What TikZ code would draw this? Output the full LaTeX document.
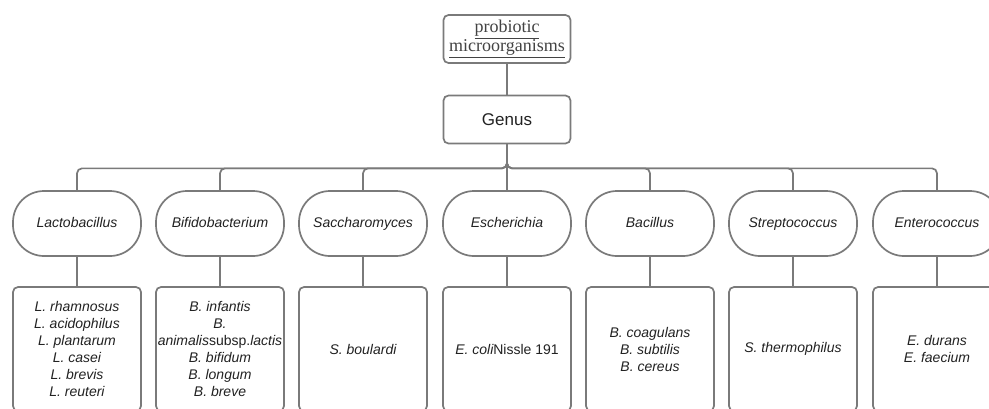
\documentclass[tikz,border=0pt]{standalone}
\usepackage{fontspec}
\setmainfont{Liberation Sans}
\newfontfamily\serifface{Liberation Serif}
\definecolor{linegray}{HTML}{7A7A7A}
\definecolor{txt}{HTML}{222222}
\begin{document}
\begin{tikzpicture}[x=1pt,y=-1pt,
  box/.style={draw=linegray,line width=1.7pt,fill=white,rounded corners=5pt,inner sep=0pt,text=txt},
  topbox/.style={box,minimum width=127pt,minimum height=48pt},
  pill/.style={draw=linegray,line width=1.7pt,fill=white,rounded corners=31pt,minimum width=128pt,minimum height=65pt,inner sep=0pt,font=\fontsize{14}{16}\selectfont\itshape,text=txt,text height=10pt,text depth=3pt},
  spbox/.style={box,minimum width=128pt,minimum height=124pt,font=\fontsize{14}{17}\selectfont\itshape,align=center},
  conn/.style={draw=linegray,line width=1.7pt,rounded corners=5pt}]
\useasboundingbox (0,0) rectangle (989,408);
\clip (0,0) rectangle (989,408);
\node[topbox,font=\serifface\fontsize{18}{17}\selectfont,text=txt!85,align=center] (top) at (507,39) {\underline{probiotic}\\\underline{microorganisms}};
\node[topbox,font=\fontsize{17}{19}\selectfont] (genus) at (507,119.5) {Genus};
\draw[conn] (top) -- (genus);
\foreach \n/\x/\t in {lac/77/Lactobacillus,bif/220/Bifidobacterium,sac/363/Saccharomyces,bac/650/Bacillus,str/793/Streptococcus,ent/937/Enterococcus}{
  \node[pill] (\n) at (\x,223.5) {\t};
  \draw[conn] (genus.south) -- ++(0,24) -| (\n.north);
}
\node[pill] (esc) at (507,223.5) {Escherichia};
\draw[conn] (genus.south) -- (esc.north);
\node[spbox] (lacs) at (77,349) {L. rhamnosus\\L. acidophilus\\L. plantarum\\L. casei\\L. brevis\\L. reuteri};
\node[spbox] (bifs) at (220,349) {B. infantis\\B.\\animalis\upshape subsp.\itshape lactis\\B. bifidum\\B. longum\\B. breve};
\node[spbox] (sacs) at (363,349) {S. boulardi};
\node[spbox] (escs) at (507,349) {E. coli\upshape Nissle 191};
\node[spbox] (bacs) at (650,349) {B. coagulans\\B. subtilis\\B. cereus};
\node[spbox] (strs) at (793,349) {S. thermophilus};
\node[spbox] (ents) at (937,349) {E. durans\\E. faecium};
\foreach \n in {lac,bif,sac,esc,bac,str,ent}{
  \draw[conn] (\n.south) -- (\n s.north);
}
\end{tikzpicture}
\end{document}
